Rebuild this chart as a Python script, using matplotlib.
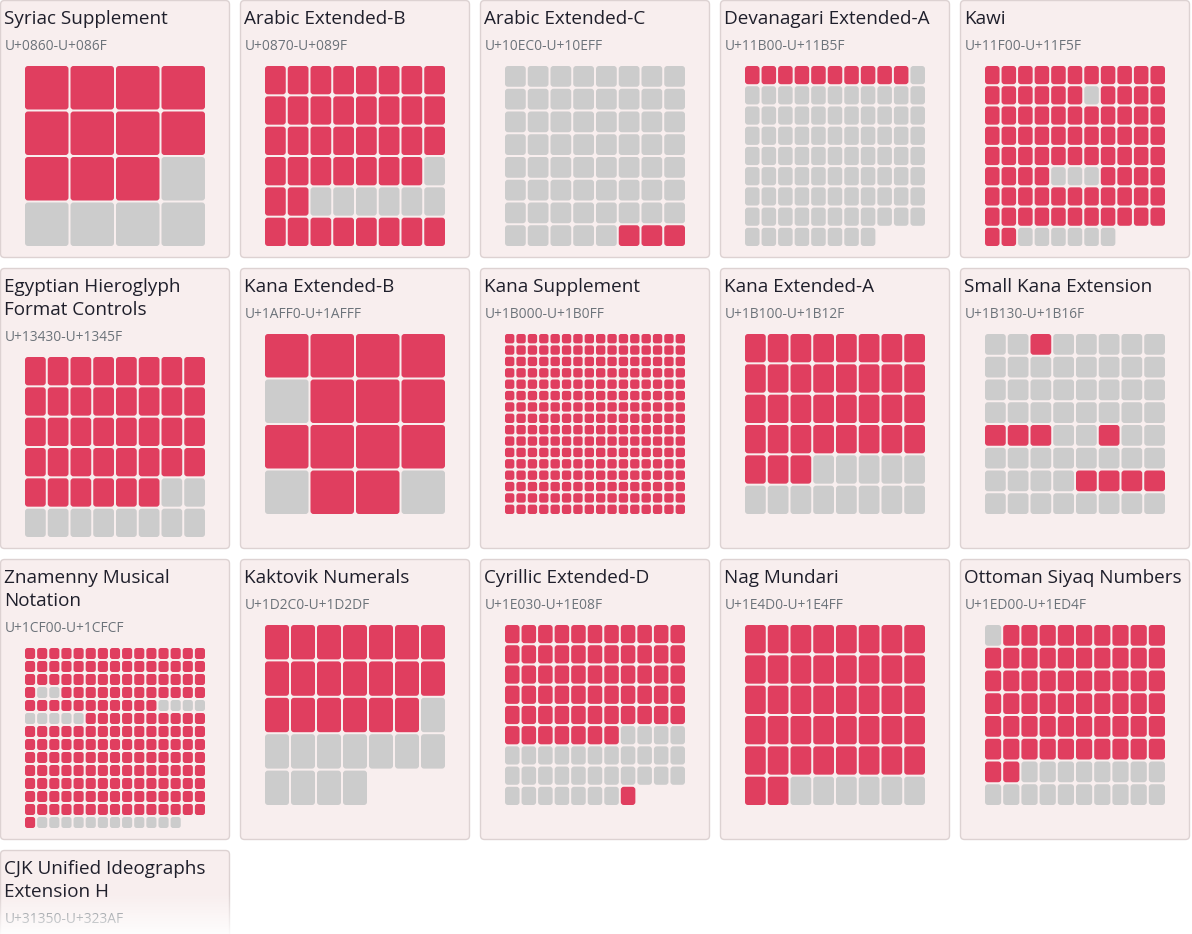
import math
import matplotlib
matplotlib.use("Agg")
import matplotlib.pyplot as plt
from matplotlib.patches import FancyBboxPatch
from matplotlib.collections import PatchCollection
import numpy as np

# ---------------- data ----------------
block_titles = [
    "Syriac Supplement", "Arabic Extended-B", "Arabic Extended-C",
    "Devanagari Extended-A", "Kawi",
    "Egyptian Hieroglyph\nFormat Controls", "Kana Extended-B", "Kana Supplement",
    "Kana Extended-A", "Small Kana Extension",
    "Znamenny Musical\nNotation", "Kaktovik Numerals", "Cyrillic Extended-D",
    "Nag Mundari", "Ottoman Siyaq Numbers",
    "CJK Unified Ideographs\nExtension H",
]
block_starts = [0x0860, 0x0870, 0x10EC0, 0x11B00, 0x11F00,
                0x13430, 0x1AFF0, 0x1B000, 0x1B100, 0x1B130,
                0x1CF00, 0x1D2C0, 0x1E030, 0x1E4D0, 0x1ED00,
                0x31350]
block_ends = [0x086F, 0x089F, 0x10EFF, 0x11B5F, 0x11F5F,
              0x1345F, 0x1AFFF, 0x1B0FF, 0x1B12F, 0x1B16F,
              0x1CFCF, 0x1D2DF, 0x1E08F, 0x1E4FF, 0x1ED4F,
              0x323AF]
# assigned code point ranges (inclusive), read from the red cells
assigned_ranges = [
    [(0x0860, 0x086A)],
    [(0x0870, 0x088E), (0x0890, 0x0891), (0x0898, 0x089F)],
    [(0x10EFD, 0x10EFF)],
    [(0x11B00, 0x11B09)],
    [(0x11F00, 0x11F10), (0x11F12, 0x11F3A), (0x11F3E, 0x11F59)],
    [(0x13430, 0x13455)],
    [(0x1AFF0, 0x1AFF3), (0x1AFF5, 0x1AFFB), (0x1AFFD, 0x1AFFE)],
    [(0x1B000, 0x1B0FF)],
    [(0x1B100, 0x1B122)],
    [(0x1B132, 0x1B132), (0x1B150, 0x1B152), (0x1B155, 0x1B155), (0x1B164, 0x1B167)],
    [(0x1CF00, 0x1CF2D), (0x1CF30, 0x1CF46), (0x1CF50, 0x1CFC3)],
    [(0x1D2C0, 0x1D2D3)],
    [(0x1E030, 0x1E06D), (0x1E08F, 0x1E08F)],
    [(0x1E4D0, 0x1E4F9)],
    [(0x1ED01, 0x1ED3D)],
    [(0x31350, 0x323AF)],
]
grid_columns = [4, 8, 8, 11, 11, 8, 4, 16, 8, 8, 15, 7, 11, 8, 10, 65]

# ---------------- style ----------------
W, H = 1192, 934
RED = "#e03e5f"
GRAY = "#cccccc"
PANEL_FILL = "#f8eeee"
PANEL_EDGE = "#ddd2d2"
TITLE_C = "#1f1f2b"
SUB_C = "#6c737a"
FONT = "Open Sans"

n_cols = 5
col_w = 230
col_step = 240
grid_size = 182
line_extra = 23

fig = plt.figure(figsize=(W / 100, H / 100), dpi=100)
ax = fig.add_axes([0, 0, 1, 1])
ax.set_xlim(0, W)
ax.set_ylim(H, 0)
ax.axis("off")

n_blocks = len(block_titles)
rows = [list(range(i, min(i + n_cols, n_blocks))) for i in range(0, n_blocks, n_cols)]

top = 0
for row in rows:
    max_lines = max(block_titles[i].count("\n") + 1 for i in row)
    panel_h = 65 + line_extra * (max_lines - 1) + grid_size + 11
    for k, i in enumerate(row):
        px = k * col_step
        ax.add_patch(FancyBboxPatch((px + 0.5, top + 0.5), col_w - 1, panel_h - 1,
                                    boxstyle="round,pad=0,rounding_size=4",
                                    facecolor=PANEL_FILL, edgecolor=PANEL_EDGE,
                                    linewidth=1.0, zorder=1))
        lines = block_titles[i].split("\n")
        for j, ln in enumerate(lines):
            ax.text(px + 4.5, top + 24 + line_extra * j, ln, fontsize=13.6,
                    family=FONT, color=TITLE_C, va="baseline", ha="left", zorder=3)
        extra = line_extra * (len(lines) - 1)
        ax.text(px + 4.5, top + 50 + extra,
                "U+%04X-U+%04X" % (block_starts[i], block_ends[i]),
                fontsize=9.9, family=FONT, color=SUB_C, va="baseline", ha="left", zorder=3)

        gy = top + 65 + extra
        if gy > H:
            continue
        gx = px + 24
        n = block_ends[i] - block_starts[i] + 1
        cols = grid_columns[i]
        nrows = math.ceil(n / cols)
        pxs = grid_size / cols
        pys = grid_size / nrows
        assigned = np.zeros(n, dtype=bool)
        for a, b in assigned_ranges[i]:
            assigned[a - block_starts[i]: b - block_starts[i] + 1] = True
        patches, colors = [], []
        rs = min(3.0, (pxs - 2) / 4)
        for idx in range(n):
            r, c = divmod(idx, cols)
            patches.append(FancyBboxPatch((gx + c * pxs + 1, gy + r * pys + 1),
                                          pxs - 2, pys - 2,
                                          boxstyle="round,pad=0,rounding_size=%.2f" % rs))
            colors.append(RED if assigned[idx] else GRAY)
        ax.add_collection(PatchCollection(patches, facecolors=colors,
                                          edgecolors="none", zorder=2))
    top += panel_h + 10

# fade-out at the bottom
grad = np.zeros((100, 2, 4))
grad[..., :3] = 1.0
grad[..., 3] = (np.linspace(0, 1, 100) * 0.95)[:, None]
ax.imshow(grad, extent=(0, W, H + 4, 893), aspect="auto", zorder=10,
          interpolation="bilinear")
ax.set_xlim(0, W)
ax.set_ylim(H, 0)

fig.savefig("out.png", dpi=100, facecolor="white")
